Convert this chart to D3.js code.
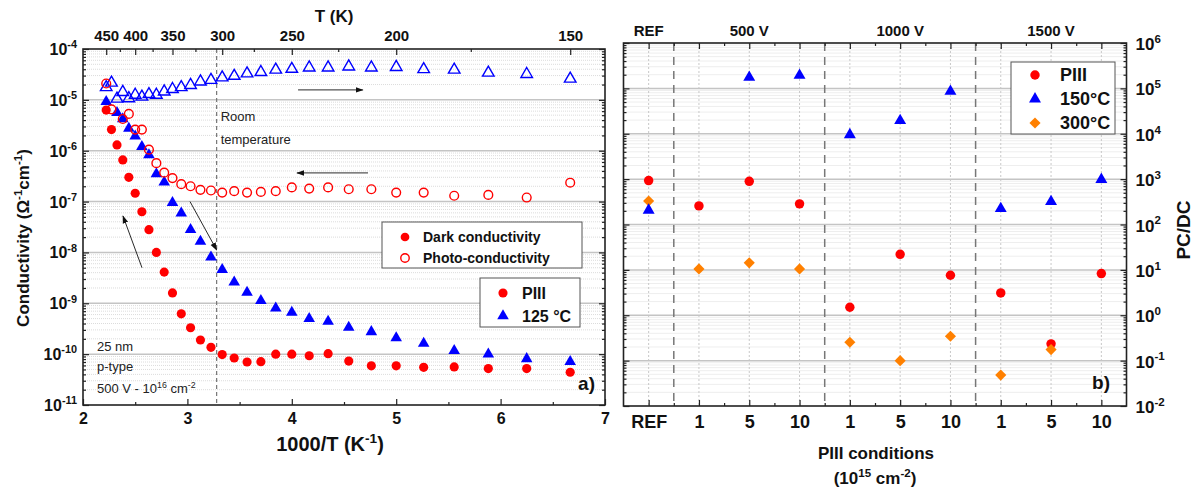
<!DOCTYPE html>
<html>
<head>
<meta charset="utf-8">
<script src="https://cdn.jsdelivr.net/npm/d3@7"></script>
<style>
  body { margin: 0; background: #fff; }
  svg { font-family: 'Liberation Sans', Arial, sans-serif; }
</style>
</head>
<body>
<script>
// ---- panel a) data: conductivity vs 1000/T ----
const tempK = [450, 440, 430, 420, 410, 400, 390, 380, 370, 360, 350, 340, 330, 320, 310, 300,
  290, 280, 270, 260, 250, 240, 230, 220, 210, 200, 190, 180, 170, 160, 150]
const darkPIII = [6.3e-6, 2.6e-6, 1.3e-6, 6.6e-7, 3.0e-7, 1.46e-7, 6.3e-8, 2.8e-8, 1.0e-8, 4.1e-9,
  1.6e-9, 6.2e-10, 3.3e-10, 1.9e-10, 1.36e-10, 9.8e-11, 8.4e-11, 7.0e-11, 7.1e-11, 1.0e-10,
  1.0e-10, 9.3e-11, 1.02e-10, 7.3e-11, 5.9e-11, 5.9e-11, 5.5e-11, 5.6e-11, 5.2e-11, 5.2e-11, 4.4e-11]
const photoPIII = [2.1e-5, 6.5e-6, null, 4.2e-6, 5.3e-6, 2.6e-6, 2.6e-6, 1.05e-6, 5.7e-7, 3.7e-7,
  2.9e-7, 2.2e-7, 2.0e-7, 1.7e-7, 1.65e-7, 1.5e-7, 1.6e-7, 1.5e-7, 1.55e-7, 1.6e-7,
  1.9e-7, 1.8e-7, 1.9e-7, 1.75e-7, 1.75e-7, 1.5e-7, 1.5e-7, 1.3e-7, 1.35e-7, 1.2e-7, 2.35e-7]
const dark125 = [9.2e-6, null, 5.6e-6, 4.2e-6, 2.75e-6, 1.94e-6, 1.2e-6, 8.3e-7, 3.5e-7, 2.4e-7,
  9.5e-8, 5.9e-8, 2.8e-8, 1.64e-8, 8.1e-9, 4.6e-9, 2.6e-9, 1.63e-9, 1.12e-9, 8.0e-10,
  6.6e-10, 5.0e-10, 4.4e-10, 3.35e-10, 2.75e-10, 2.08e-10, 1.63e-10, 1.17e-10, 1.0e-10, 8.1e-11, 7.1e-11]
const photo125 = [1.77e-5, 2.17e-5, 1.05e-5, 1.42e-5, 1.07e-5, 1.25e-5, 1.15e-5, 1.29e-5, 1.25e-5, 1.45e-5,
  1.62e-5, 1.77e-5, 1.95e-5, 2.28e-5, 2.45e-5, 2.75e-5, 2.95e-5, 3.3e-5, 3.5e-5, 3.9e-5,
  4.05e-5, 4.3e-5, 4.3e-5, 4.5e-5, 4.3e-5, 4.4e-5, 4.0e-5, 3.9e-5, 3.4e-5, 3.2e-5, 2.6e-5]
const bottomTicks = [2, 3, 4, 5, 6, 7]
const topTempTicks = [450, 400, 350, 300, 250, 200, 150]
const topTempMinor = [425, 375, 325, 275, 225, 175]
const roomTempX = 3.28
// arrows [x1, y1, x2, y2] in data units (head at the second point)
const arrowsA = [
  [4.06, 1.57e-5, 4.68, 1.57e-5],
  [4.73, 3.66e-7, 4.05, 3.66e-7],
  [2.565, 5.0e-9, 2.383, 5.2e-8],
  [3.025, 1.0e-7, 3.28, 1.12e-8],
]

// ---- panel b) data: PC/DC ratio per PIII condition ----
const conditions = ['REF', '1', '5', '10', '1', '5', '10', '1', '5', '10']
const groupLabels = ['REF', '500 V', '1000 V', '1500 V']
const groupCenters = [0, 2, 5, 8]
const groupSplits = [0.5, 3.5, 6.5]
const ratioPIII = [930, 257, 895, 285, 1.5, 22, 7.6, 3.1, 0.234, 8.3]
const ratio150 = [206, null, 1.75e5, 1.94e5, 9.5e3, 1.95e4, 8.6e4, 224, 320, 980]
const ratio300 = [330, 10.5, 14.3, 10.5, 0.254, 0.10, 0.345, 0.048, 0.175, null]

;(function () {
  const RED = '#ff0000'
  const BLUE = '#0000ff'
  const ORANGE = '#ff8000'
  const svg = d3.select('body').append('svg').attr('width', 1196).attr('height', 488)

  svg.append('defs').append('marker')
    .attr('id', 'head').attr('viewBox', '0 0 10 10').attr('refX', 9).attr('refY', 5)
    .attr('markerWidth', 9).attr('markerHeight', 9).attr('orient', 'auto')
    .append('path').attr('d', 'M0,1.5 L10,5 L0,8.5 Z').attr('fill', '#111')

  // text with superscript parts: [[text, isSup], ...]
  function rich(sel, parts, size) {
    let up = false
    parts.forEach(([t, isSup]) => {
      const ts = sel.append('tspan').text(t)
      if (isSup) {
        ts.attr('font-size', size * 0.68)
        if (!up) { ts.attr('dy', -size * 0.42); up = true }
      } else if (up) {
        ts.attr('dy', size * 0.42); up = false
      }
    })
    return sel
  }

  function minorLogs(lo, hi) {
    const out = []
    for (let e = lo; e < hi; e++) for (let m = 2; m <= 9; m++) out.push(m * Math.pow(10, e))
    return out
  }
  function decades(lo, hi) {
    return d3.range(lo, hi + 1).map((e) => Math.pow(10, e))
  }

  function symbol(type, size) {
    return d3.symbol().type(type).size(size)()
  }

  // ================= panel a =================
  const ax = d3.scaleLinear().domain([2, 7]).range([83, 605])
  const ay = d3.scaleLog().domain([1e-11, 1e-4]).range([405, 49])
  const gA = svg.append('g')
  const [ax0, ax1] = ax.range()
  const [ayB, ayT] = ay.range()

  gA.append('g').selectAll('line').data(minorLogs(-11, -4)).enter().append('line')
    .attr('x1', ax0).attr('x2', ax1).attr('y1', (d) => ay(d)).attr('y2', (d) => ay(d))
    .attr('stroke', '#dcdcdc').attr('stroke-width', 1).attr('stroke-dasharray', '1,1')
  gA.append('g').selectAll('line').data(decades(-10, -5)).enter().append('line')
    .attr('x1', ax0).attr('x2', ax1).attr('y1', (d) => ay(d)).attr('y2', (d) => ay(d))
    .attr('stroke', '#c4c4c4').attr('stroke-width', 1.5)

  // room temperature line
  gA.append('line').attr('x1', ax(roomTempX)).attr('x2', ax(roomTempX)).attr('y1', ayT).attr('y2', ayB)
    .attr('stroke', '#777').attr('stroke-width', 1.2).attr('stroke-dasharray', '4,3')

  // axes (ticks inward)
  const bottomA = gA.append('g').attr('transform', `translate(0,${ayB})`)
    .call(d3.axisBottom(ax).tickValues(bottomTicks).tickSize(-6).tickPadding(8).tickFormat(d3.format('d')))
  gA.append('g').attr('transform', `translate(0,${ayB})`)
    .call(d3.axisBottom(ax).tickValues([2.5, 3.5, 4.5, 5.5, 6.5]).tickSize(-3).tickFormat(''))
  const topA = gA.append('g').attr('transform', `translate(0,${ayT})`)
    .call(d3.axisTop(ax).tickValues(topTempTicks.map((t) => 1000 / t)).tickSize(-6).tickPadding(8)
      .tickFormat((d, i) => topTempTicks[i]))
  gA.append('g').attr('transform', `translate(0,${ayT})`)
    .call(d3.axisTop(ax).tickValues(topTempMinor.map((t) => 1000 / t)).tickSize(-3).tickFormat(''))
  gA.append('g').attr('transform', `translate(${ax0},0)`)
    .call(d3.axisLeft(ay).tickValues(decades(-11, -4)).tickSize(-6).tickFormat(''))
  gA.append('g').attr('transform', `translate(${ax0},0)`)
    .call(d3.axisLeft(ay).tickValues(minorLogs(-11, -4)).tickSize(-3).tickFormat(''))
  gA.append('g').attr('transform', `translate(${ax1},0)`)
    .call(d3.axisRight(ay).tickValues(decades(-11, -4)).tickSize(-6).tickFormat(''))
  gA.append('g').attr('transform', `translate(${ax1},0)`)
    .call(d3.axisRight(ay).tickValues(minorLogs(-11, -4)).tickSize(-3).tickFormat(''))
  gA.selectAll('.domain').remove()
  gA.selectAll('.tick line').attr('stroke', '#222').attr('stroke-width', 1.2)
  bottomA.selectAll('text').attr('font-size', 16).attr('font-weight', 'bold').attr('fill', '#111')
  topA.selectAll('text').attr('font-size', 15).attr('font-weight', 'bold').attr('fill', '#111')

  gA.append('rect').attr('x', ax0).attr('y', ayT).attr('width', ax1 - ax0).attr('height', ayB - ayT)
    .attr('fill', 'none').attr('stroke', '#222').attr('stroke-width', 1.6)

  // y tick labels
  gA.append('g').selectAll('text').data(d3.range(-11, -3)).enter().append('text')
    .attr('x', ax0 - 6).attr('y', (e) => ay(Math.pow(10, e)) + 6)
    .attr('text-anchor', 'end').attr('font-size', 16).attr('font-weight', 'bold').attr('fill', '#111')
    .each(function (e) { rich(d3.select(this), [['10', false], [String(e), true]], 16) })

  // axis titles
  gA.append('text').attr('x', 330).attr('y', 451).attr('text-anchor', 'middle')
    .attr('font-size', 20).attr('font-weight', 'bold').attr('fill', '#111')
    .call((s) => rich(s, [['1000/T (K', false], ['-1', true], [')', false]], 20))
  gA.append('text').attr('x', 334).attr('y', 22).attr('text-anchor', 'middle')
    .attr('font-size', 17).attr('font-weight', 'bold').attr('fill', '#111').text('T (K)')
  gA.append('text').attr('transform', 'translate(29,238) rotate(-90)').attr('text-anchor', 'middle')
    .attr('font-size', 17).attr('font-weight', 'bold').attr('fill', '#111')
    .call((s) => rich(s, [['Conductivity (\u03A9', false], ['-1', true], ['cm', false], ['-1', true], [')', false]], 17))

  // annotations
  gA.append('text').attr('x', ax(roomTempX) + 4).attr('y', 121).attr('font-size', 13).attr('fill', '#222').text('Room')
  gA.append('text').attr('x', ax(roomTempX) + 4).attr('y', 144).attr('font-size', 13).attr('fill', '#222').text('temperature')
  gA.append('text').attr('x', 97).attr('y', 351).attr('font-size', 13).attr('fill', '#222').text('25 nm')
  gA.append('text').attr('x', 97).attr('y', 371).attr('font-size', 13).attr('fill', '#222').text('p-type')
  gA.append('text').attr('x', 97).attr('y', 393).attr('font-size', 13).attr('fill', '#222')
    .call((s) => rich(s, [['500 V - 10', false], ['16', true], [' cm', false], ['-2', true]], 13))
  gA.append('text').attr('x', 595).attr('y', 390).attr('text-anchor', 'end')
    .attr('font-size', 19).attr('font-weight', 'bold').attr('fill', '#111').text('a)')

  gA.append('g').selectAll('line').data(arrowsA).enter().append('line')
    .attr('x1', (d) => ax(d[0])).attr('y1', (d) => ay(d[1]))
    .attr('x2', (d) => ax(d[2])).attr('y2', (d) => ay(d[3]))
    .attr('stroke', '#111').attr('stroke-width', 0.9).attr('marker-end', 'url(#head)')

  // series
  function seriesA(values, type, size, color, filled) {
    const pts = tempK.map((t, i) => ({ x: 1000 / t, y: values[i] })).filter((p) => p.y != null)
    gA.append('g').selectAll('path').data(pts).enter().append('path')
      .attr('d', symbol(type, size))
      .attr('transform', (p) => `translate(${ax(p.x)},${ay(p.y)})`)
      .attr('fill', filled ? color : 'none').attr('stroke', color).attr('stroke-width', filled ? 0 : 1.4)
  }
  seriesA(darkPIII, d3.symbolCircle, 66, RED, true)
  seriesA(dark125, d3.symbolTriangle, 58, BLUE, true)
  seriesA(photo125, d3.symbolTriangle, 58, BLUE, false)
  seriesA(photoPIII, d3.symbolCircle, 60, RED, false)

  // legends
  function legend(g, x, y, w, h, items, fs, markerX, textX, rowY) {
    g.append('rect').attr('x', x).attr('y', y).attr('width', w).attr('height', h)
      .attr('fill', '#fff').attr('stroke', '#555').attr('stroke-width', 1)
    items.forEach((it, i) => {
      g.append('path').attr('d', symbol(it.type, it.size))
        .attr('transform', `translate(${markerX},${rowY[i]})${it.rot ? ' rotate(45)' : ''}`)
        .attr('fill', it.filled ? it.color : 'none').attr('stroke', it.color)
        .attr('stroke-width', it.filled ? 0 : 1.4)
      g.append('text').attr('x', textX).attr('y', rowY[i] + fs * 0.36)
        .attr('font-size', fs).attr('font-weight', 'bold').attr('fill', '#111').text(it.label)
    })
  }
  legend(gA, 382, 222, 200, 46, [
    { label: 'Dark conductivity', type: d3.symbolCircle, size: 60, color: RED, filled: true },
    { label: 'Photo-conductivity', type: d3.symbolCircle, size: 56, color: RED, filled: false },
  ], 14, 405, 423, [237, 258])
  legend(gA, 480, 278, 100, 49, [
    { label: 'PIII', type: d3.symbolCircle, size: 66, color: RED, filled: true },
    { label: '125 \u00B0C', type: d3.symbolTriangle, size: 58, color: BLUE, filled: true },
  ], 16, 503, 522, [293, 316])

  // ================= panel b =================
  const bx = d3.scaleLinear().domain([-0.5, 9.5]).range([623.5, 1126.5])
  const by = d3.scaleLog().domain([1e-2, 1e6]).range([406, 43])
  const gB = svg.append('g')
  const [bx0, bx1] = bx.range()
  const [byB, byT] = by.range()

  gB.append('g').selectAll('line').data(minorLogs(-2, 6)).enter().append('line')
    .attr('x1', bx0).attr('x2', bx1).attr('y1', (d) => by(d)).attr('y2', (d) => by(d))
    .attr('stroke', '#dcdcdc').attr('stroke-width', 1).attr('stroke-dasharray', '1,1')
  gB.append('g').selectAll('line').data(conditions).enter().append('line')
    .attr('x1', (d, i) => bx(i)).attr('x2', (d, i) => bx(i)).attr('y1', byT).attr('y2', byB)
    .attr('stroke', '#c8c8c8').attr('stroke-width', 1).attr('stroke-dasharray', '2,2')
  gB.append('g').selectAll('line').data(decades(-1, 5)).enter().append('line')
    .attr('x1', bx0).attr('x2', bx1).attr('y1', (d) => by(d)).attr('y2', (d) => by(d))
    .attr('stroke', '#c4c4c4').attr('stroke-width', 1.5)
  gB.append('g').selectAll('line').data(groupSplits).enter().append('line')
    .attr('x1', (d) => bx(d)).attr('x2', (d) => bx(d)).attr('y1', byT).attr('y2', byB)
    .attr('stroke', '#777').attr('stroke-width', 1.5).attr('stroke-dasharray', '8,6')

  const bottomB = gB.append('g').attr('transform', `translate(0,${byB})`)
    .call(d3.axisBottom(bx).tickValues(d3.range(10)).tickSize(-6).tickPadding(9)
      .tickFormat((d) => conditions[d]))
  gB.append('g').attr('transform', `translate(0,${byB})`)
    .call(d3.axisBottom(bx).tickValues(d3.range(0.5, 9.5, 1)).tickSize(-3).tickFormat(''))
  gB.append('g').attr('transform', `translate(0,${byT})`)
    .call(d3.axisTop(bx).tickValues(d3.range(10)).tickSize(-6).tickFormat(''))
  gB.append('g').attr('transform', `translate(0,${byT})`)
    .call(d3.axisTop(bx).tickValues(d3.range(0.5, 9.5, 1)).tickSize(-3).tickFormat(''))
  gB.append('g').attr('transform', `translate(${bx0},0)`)
    .call(d3.axisLeft(by).tickValues(decades(-2, 6)).tickSize(-6).tickFormat(''))
  gB.append('g').attr('transform', `translate(${bx0},0)`)
    .call(d3.axisLeft(by).tickValues(minorLogs(-2, 6)).tickSize(-3).tickFormat(''))
  gB.append('g').attr('transform', `translate(${bx1},0)`)
    .call(d3.axisRight(by).tickValues(decades(-2, 6)).tickSize(-6).tickFormat(''))
  gB.append('g').attr('transform', `translate(${bx1},0)`)
    .call(d3.axisRight(by).tickValues(minorLogs(-2, 6)).tickSize(-3).tickFormat(''))
  gB.selectAll('.domain').remove()
  gB.selectAll('.tick line').attr('stroke', '#222').attr('stroke-width', 1.2)
  bottomB.selectAll('text').attr('font-size', 18).attr('font-weight', 'bold').attr('fill', '#111')

  gB.append('rect').attr('x', bx0).attr('y', byT).attr('width', bx1 - bx0).attr('height', byB - byT)
    .attr('fill', 'none').attr('stroke', '#222').attr('stroke-width', 1.6)

  gB.append('g').selectAll('text').data(d3.range(-2, 7)).enter().append('text')
    .attr('x', bx1 + 9).attr('y', (e) => by(Math.pow(10, e)) + 7)
    .attr('font-size', 17).attr('font-weight', 'bold').attr('fill', '#111')
    .each(function (e) { rich(d3.select(this), [['10', false], [String(e), true]], 17) })

  gB.append('g').selectAll('text').data(groupLabels).enter().append('text')
    .attr('x', (d, i) => bx(groupCenters[i])).attr('y', 36).attr('text-anchor', 'middle')
    .attr('font-size', 15).attr('font-weight', 'bold').attr('fill', '#111').text((d) => d)

  gB.append('text').attr('x', 876).attr('y', 459).attr('text-anchor', 'middle')
    .attr('font-size', 17).attr('font-weight', 'bold').attr('fill', '#111').text('PIII conditions')
  gB.append('text').attr('x', 875).attr('y', 484).attr('text-anchor', 'middle')
    .attr('font-size', 17).attr('font-weight', 'bold').attr('fill', '#111')
    .call((s) => rich(s, [['(10', false], ['15', true], [' cm', false], ['-2', true], [')', false]], 17))
  gB.append('text').attr('transform', 'translate(1190,230) rotate(-90)').attr('text-anchor', 'middle')
    .attr('font-size', 19).attr('font-weight', 'bold').attr('fill', '#111').text('PC/DC')
  gB.append('text').attr('x', 1110).attr('y', 389).attr('text-anchor', 'end')
    .attr('font-size', 19).attr('font-weight', 'bold').attr('fill', '#111').text('b)')

  function seriesB(values, type, size, color, rot) {
    const pts = values.map((v, i) => ({ i, v })).filter((p) => p.v != null)
    gB.append('g').selectAll('path').data(pts).enter().append('path')
      .attr('d', symbol(type, size))
      .attr('transform', (p) => `translate(${bx(p.i)},${by(p.v)})${rot ? ' rotate(45)' : ''}`)
      .attr('fill', color)
  }
  seriesB(ratioPIII, d3.symbolCircle, 70, RED, false)
  seriesB(ratio300, d3.symbolSquare, 62, ORANGE, true)
  seriesB(ratio150, d3.symbolTriangle, 62, BLUE, false)

  legend(gB, 1011, 62, 104, 72, [
    { label: 'PIII', type: d3.symbolCircle, size: 70, color: RED, filled: true },
    { label: '150\u00B0C', type: d3.symbolTriangle, size: 62, color: BLUE, filled: true },
    { label: '300\u00B0C', type: d3.symbolSquare, size: 62, color: ORANGE, filled: true, rot: true },
  ], 18, 1035, 1060, [75, 99, 123])
})()
</script>
</body>
</html>
